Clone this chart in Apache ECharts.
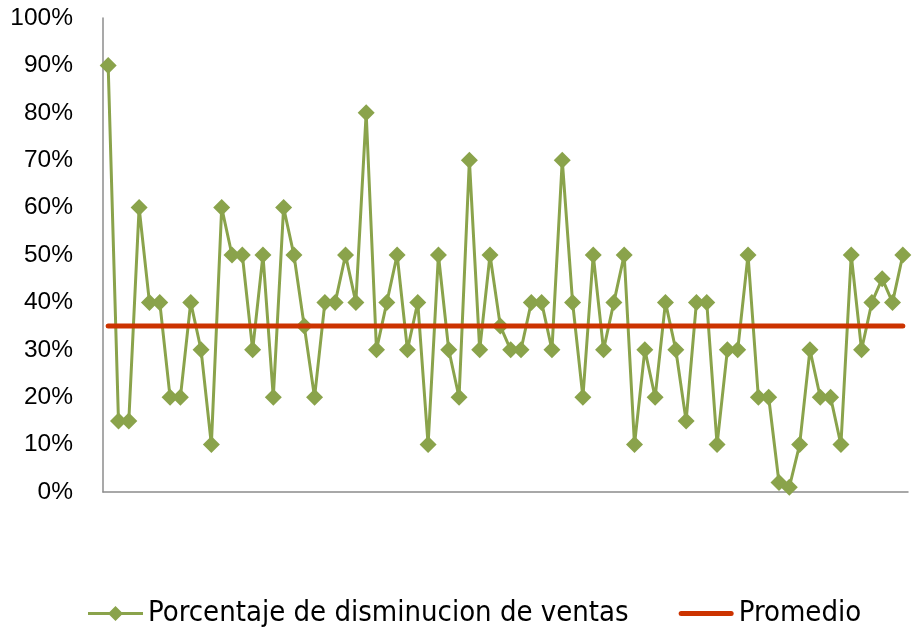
<!DOCTYPE html>
<html><head><meta charset="utf-8">
<script src="https://cdn.jsdelivr.net/npm/echarts@6/dist/echarts.min.js"></script>
<style>html,body{margin:0;padding:0;background:#fff}#c{width:917px;height:627px}</style>
</head><body><div id="c"></div>
<script>
const categories = Array.from({length: 78}, (_, i) => String(i + 1));
const disminucion = [90,15,15,60,40,40,20,20,40,30,
  10,60,50,50,30,50,20,60,50,35,
  20,40,40,50,40,80,30,40,50,30,
  40,10,50,30,20,70,30,50,35,30,
  30,40,40,30,70,40,20,50,30,40,
  50,10,30,20,40,30,15,40,40,10,
  30,30,50,20,20,2,1,10,30,20,
  20,10,50,30,40,45,40,50];
const promedio = [35,35,35,35,35,35,35,35,35,35,35,35,35,35,35,35,35,35,35,35,
  35,35,35,35,35,35,35,35,35,35,35,35,35,35,35,35,35,35,35,35,
  35,35,35,35,35,35,35,35,35,35,35,35,35,35,35,35,35,35,35,35,
  35,35,35,35,35,35,35,35,35,35,35,35,35,35,35,35,35,35];

const chart = echarts.init(document.getElementById('c'), null, {renderer: 'canvas'});
chart.setOption({
  animation: false,
  backgroundColor: '#fff',
  grid: {left: 103, right: 9, top: 18, bottom: 135, containLabel: false},
  xAxis: {
    type: 'category', data: categories, boundaryGap: true,
    axisLine: {show: true, lineStyle: {color: '#8c8c8c', width: 1.5}},
    axisTick: {show: false}, axisLabel: {show: false}, splitLine: {show: false}
  },
  yAxis: {
    type: 'value', min: 0, max: 100, interval: 10,
    axisLine: {show: true, lineStyle: {color: '#8c8c8c', width: 1.5}},
    axisTick: {show: false}, splitLine: {show: false},
    axisLabel: {formatter: v => v + '%', color: '#000', fontSize: 24.5,
      fontFamily: 'Liberation Sans, Arial, sans-serif', margin: 30}
  },
  legend: {
    top: 594, left: 83, itemGap: 50, itemWidth: 55, itemHeight: 16,
    textStyle: {fontSize: 29, color: '#000', fontFamily: 'DejaVu Sans Condensed, sans-serif'},
    data: [
      {name: 'Porcentaje de disminucion de ventas',
       icon: 'path://M0,0 L0,0 M0,6.5 L55,6.5 L55,9.5 L0,9.5 Z M27.5,0.5 L35,8 L27.5,15.5 L20,8 Z M55,16 L55,16'},
      {name: 'Promedio', icon: 'path://M0,0 L0,0 M2.5,5.5 L52.5,5.5 A2.5,2.5 0 0 1 52.5,10.5 L2.5,10.5 A2.5,2.5 0 0 1 2.5,5.5 Z M55,16 L55,16'}
    ]
  },
  series: [
    {
      name: 'Porcentaje de disminucion de ventas', type: 'line', data: disminucion,
      symbol: 'diamond', symbolSize: 17, showAllSymbol: true,
      lineStyle: {color: '#8aa34b', width: 3},
      itemStyle: {color: '#8aa34b'}, z: 2
    },
    {
      name: 'Promedio', type: 'line', data: promedio, symbol: 'none',
      lineStyle: {color: '#cc3300', width: 5, cap: 'round'},
      itemStyle: {color: '#cc3300'}, z: 3
    }
  ]
});
</script></body></html>
